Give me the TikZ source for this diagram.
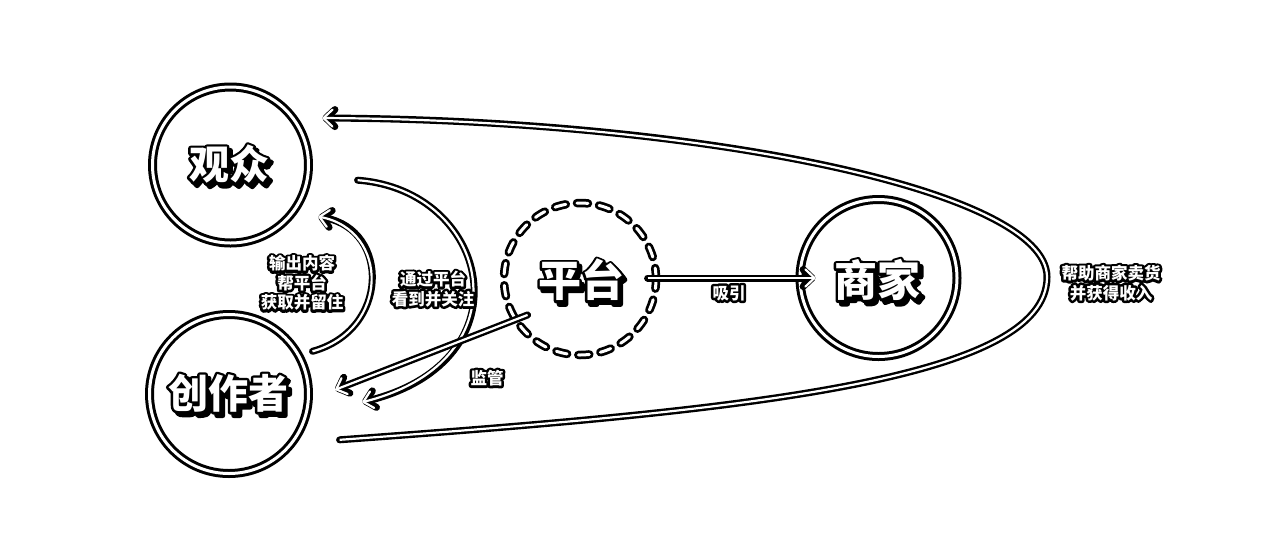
\documentclass[tikz,border=0pt]{standalone}
\usepackage{fontspec}
\newfontfamily\cjk{Noto Sans CJK SC}
\usetikzlibrary{arrows.meta}
% stroked text (fill + stroke with line width #1)
\newcommand{\strk}[2]{\special{pdf:literal direct 2 Tr #1 w 1 j}#2\special{pdf:literal direct 0 Tr}}
% outlined text: black stroked copy under a white copy
\newcommand{\otext}[5]{%
  \node[#2, text=black] (#1o) at #3 {\strk{#4}{#5}};
  \node[#2, text=white] (#1) at #3 {#5};}
\tikzset{
  ring/.style={circle, draw=black, line width=3pt, double=white, double distance=3pt, inner sep=0pt},
  dashring/.style={circle, inner sep=0pt, draw=white, line width=3pt, line cap=round, dash pattern=on 11pt off 11.28pt,
     preaction={draw=black, line width=8.5pt, line cap=round, dash pattern=on 11pt off 11.28pt}},
  namefont/.style={font=\cjk\bfseries\fontsize{40}{40}\selectfont, inner sep=0pt},
  bigfont/.style={font=\cjk\bfseries\fontsize{43}{43}\selectfont, inner sep=0pt},
  labelfont/.style={font=\cjk\bfseries\fontsize{16.5}{19.5}\selectfont, align=center, inner sep=0pt},
  dblarrow/.style={draw=white, line width=2.2pt, shorten <=2.6pt, shorten >=3.4pt,
     -{Straight Barb[length=9pt,width=17pt,line join=round,line cap=round]},
     preaction={draw=black, line width=7pt, line cap=round,
       -{Straight Barb[length=9pt,width=17pt,line join=round,line cap=round]}}}
}
\begin{document}
\begin{tikzpicture}[x=1pt,y=-1pt]
\useasboundingbox (0,0) rectangle (1280,558);
\fill[white] (0,0) rectangle (1280,558);

% circles
\node[ring, minimum size=156pt] (gz) at (230.5,165) {};
\node[ring, minimum size=159pt] (cz) at (229,394) {};
\node[ring, minimum size=157pt] (sj) at (878.5,278) {};
\node[dashring, minimum size=152pt] (pt) at (580,279) {};

% endpoints
\coordinate (a1) at (337,440);
\coordinate (a2) at (319,118);
\coordinate (b1) at (310,352);
\coordinate (b2) at (315,216);
\coordinate (c1) at (355,180);
\coordinate (c2) at (359,403);
\coordinate (d1) at (530,314);
\coordinate (d2) at (332,391);
\coordinate (e1) at (645,278);
\coordinate (e2) at (819,278);

% connectors
\draw[dblarrow] (a1) .. controls (750,410) and (1047,380) .. (1047,277)
                     .. controls (1047,190) and (700,120) .. (a2);
\draw[dblarrow] (b1) .. controls (390,330) and (390,230) .. (b2);
\draw[dblarrow] (c1) .. controls (490,190) and (530,360) .. (c2);
\draw[dblarrow] (d1) -- (d2);
\draw[dblarrow] (e1) -- (e2);

% names: shadow, outline, white text
\node[namefont, text=black] (gzs) at (232.5,167.5) {\strk{5}{观众}};
\otext{gzt}{namefont}{(229,164)}{5}{观众}
\node[namefont, text=black] (czs) at (231.5,396.5) {\strk{5}{创作者}};
\otext{czt}{namefont}{(228,393)}{5}{创作者}
\node[bigfont, text=black] (pts) at (584,283.5) {\strk{5}{平台}};
\otext{ptt}{bigfont}{(581,280)}{5}{平台}
\node[bigfont, text=black] (sjs) at (880.5,283.5) {\strk{5}{商家}};
\otext{sjt}{bigfont}{(877,280)}{5}{商家}

% labels
\otext{l1}{labelfont}{(302,283)}{5}{输出内容\\帮平台\\获取并留住}
\otext{l2}{labelfont}{(433,289)}{5}{通过平台\\看到并关注}
\otext{l3}{labelfont}{(729,293)}{5}{吸引}
\otext{l4}{labelfont}{(487,378)}{5}{监管}
\otext{l5}{labelfont}{(1111,283)}{5}{帮助商家卖货\\并获得收入}
\end{tikzpicture}
\end{document}
